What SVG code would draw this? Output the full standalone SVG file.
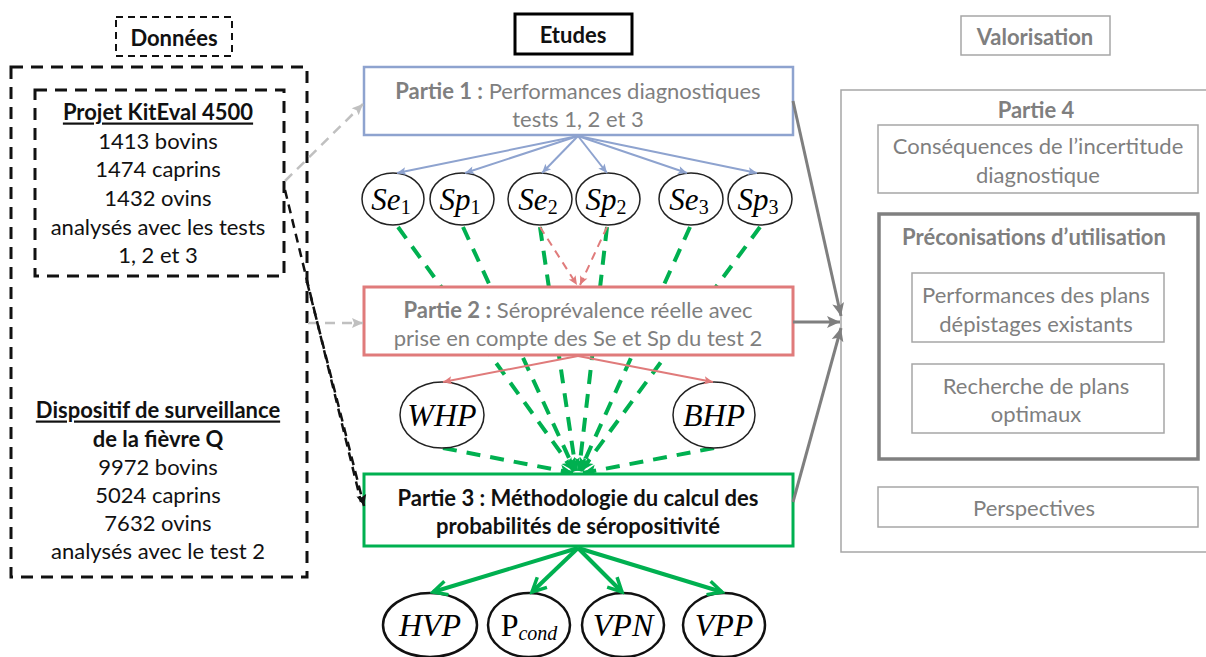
<svg xmlns="http://www.w3.org/2000/svg" width="1206" height="657" viewBox="0 0 1206 657">
<style>
.t{font-family:Lato,"Liberation Sans",sans-serif;font-size:22px;text-anchor:middle;dominant-baseline:central}
.b{font-weight:bold}
.g{fill:#7f7f7f}
.k{fill:#111}
.m{font-family:"Liberation Serif","DejaVu Serif",serif;font-style:italic;text-anchor:middle;dominant-baseline:central;fill:#000}
.up{font-style:normal}
.ell{fill:#fff;stroke:#222;stroke-width:1.5}
.ell2{fill:#fff;stroke:#111;stroke-width:2.5}
.dash{fill:none;stroke:#111;stroke-width:3;stroke-dasharray:12 8}
.gbox{fill:#fff;stroke:#a6a6a6;stroke-width:1.5}
</style>
<defs>
<marker id="ab" markerUnits="userSpaceOnUse" markerWidth="12" markerHeight="12" refX="10" refY="6" orient="auto"><path d="M1,2 L10,6 L1,10 L3,6 Z" fill="#8ea3cf"/></marker>
<marker id="ar" markerUnits="userSpaceOnUse" markerWidth="12" markerHeight="12" refX="10" refY="6" orient="auto"><path d="M1,2 L10,6 L1,10 L3,6 Z" fill="#e07b7b"/></marker>
<marker id="ag" markerUnits="userSpaceOnUse" markerWidth="20" markerHeight="20" refX="17" refY="10" orient="auto"><path d="M3,3 L17,10 L3,17" fill="none" stroke="#00b050" stroke-width="3.5"/></marker>
<marker id="agd" markerUnits="userSpaceOnUse" markerWidth="16" markerHeight="16" refX="14" refY="8" orient="auto"><path d="M1,2 L14,8 L1,14 L4,8 Z" fill="#00b050"/></marker>
<marker id="agr" markerUnits="userSpaceOnUse" markerWidth="16" markerHeight="16" refX="14" refY="8" orient="auto"><path d="M1,2 L14,8 L1,14 L4,8 Z" fill="#7f7f7f"/></marker>
<marker id="alg" markerUnits="userSpaceOnUse" markerWidth="14" markerHeight="14" refX="12" refY="7" orient="auto"><path d="M1,2 L12,7 L1,12 L3,7 Z" fill="#c0c0c0"/></marker>
<marker id="ak" markerUnits="userSpaceOnUse" markerWidth="14" markerHeight="14" refX="12" refY="7" orient="auto"><path d="M1,2 L12,7 L1,12 L3,7 Z" fill="#111"/></marker>
</defs>

<g id="connectors-back">
<g fill="none" stroke="#00b050" stroke-width="4" stroke-dasharray="14 10" marker-end="url(#agd)">
<line x1="398" y1="227" x2="574" y2="471"/>
<line x1="463" y1="227" x2="575" y2="471"/>
<line x1="540" y1="227" x2="576" y2="471"/>
<line x1="607" y1="227" x2="579" y2="471"/>
<line x1="690" y1="227" x2="580" y2="471"/>
<line x1="760" y1="227" x2="581" y2="471"/>
<line x1="443" y1="448" x2="573" y2="473"/>
<line x1="714" y1="448" x2="583" y2="473"/>
</g>
</g>

<g id="donnees-title">
<rect x="116" y="17" width="116" height="39" fill="#fff" stroke="#111" stroke-width="2" stroke-dasharray="7 5"/>
<text class="t b k" x="174" y="37">Données</text>
</g>
<g id="donnees">
<rect x="11" y="67" width="296" height="510" class="dash" fill="none"/>
</g>
<g id="kiteval">
<rect x="35" y="90" width="249" height="186" class="dash"/>
<text class="t b k" x="158" y="111" text-decoration="underline">Projet KitEval 4500</text>
<text class="t k" x="158" y="140">1413 bovins</text>
<text class="t k" x="158" y="168">1474 caprins</text>
<text class="t k" x="158" y="197">1432 ovins</text>
<text class="t k" x="158" y="226">analysés avec les tests</text>
<text class="t k" x="158" y="254">1, 2 et 3</text>
</g>
<g id="dispositif">
<text class="t b k" x="158" y="409" text-decoration="underline">Dispositif de surveillance</text>
<text class="t b k" x="158" y="438">de la fièvre Q</text>
<text class="t k" x="158" y="466">9972 bovins</text>
<text class="t k" x="158" y="494">5024 caprins</text>
<text class="t k" x="158" y="522">7632 ovins</text>
<text class="t k" x="158" y="550">analysés avec le test 2</text>
</g>

<g id="etudes-title">
<rect x="515" y="14" width="117" height="40" fill="#fff" stroke="#000" stroke-width="3"/>
<text class="t b k" x="573" y="34">Etudes</text>
</g>

<g id="partie1">
<rect x="364" y="67" width="429" height="68" fill="#fff" stroke="#8ea3cf" stroke-width="2.5"/>
<text class="t g" x="578" y="90"><tspan class="b">Partie 1 :</tspan> Performances diagnostiques</text>
<text class="t g" x="578" y="118">tests 1, 2 et 3</text>
</g>

<g id="partie2">
<rect x="364" y="287" width="429" height="68" fill="#fff" stroke="#e07b7b" stroke-width="3"/>
<text class="t g" x="578" y="309"><tspan class="b">Partie 2 :</tspan> Séroprévalence réelle avec</text>
<text class="t g" x="578" y="337">prise en compte des Se et Sp du test 2</text>
</g>

<g id="partie3">
<rect x="364" y="474" width="429" height="72" fill="#fff" stroke="#00b050" stroke-width="3"/>
<text class="t b k" x="578" y="497">Partie 3 : Méthodologie du calcul des</text>
<text class="t b k" x="578" y="525">probabilités de séropositivité</text>
</g>

<g id="se1"><ellipse class="ell" cx="393" cy="199" rx="31" ry="26"/><text class="m" x="391" y="199" font-size="31">Se<tspan class="up" font-size="20" dy="8">1</tspan></text></g>
<g id="sp1"><ellipse class="ell" cx="462" cy="199" rx="32" ry="26"/><text class="m" x="460" y="199" font-size="31">Sp<tspan class="up" font-size="20" dy="8">1</tspan></text></g>
<g id="se2"><ellipse class="ell" cx="540" cy="199" rx="32" ry="26"/><text class="m" x="538" y="199" font-size="31">Se<tspan class="up" font-size="20" dy="8">2</tspan></text></g>
<g id="sp2"><ellipse class="ell" cx="608" cy="199" rx="32" ry="26"/><text class="m" x="606" y="199" font-size="31">Sp<tspan class="up" font-size="20" dy="8">2</tspan></text></g>
<g id="se3"><ellipse class="ell" cx="691" cy="199" rx="32" ry="26"/><text class="m" x="689" y="199" font-size="31">Se<tspan class="up" font-size="20" dy="8">3</tspan></text></g>
<g id="sp3"><ellipse class="ell" cx="760" cy="199" rx="32" ry="26"/><text class="m" x="758" y="199" font-size="31">Sp<tspan class="up" font-size="20" dy="8">3</tspan></text></g>

<g id="whp"><ellipse class="ell" cx="442" cy="415" rx="42" ry="33"/><text class="m" x="442" y="415" font-size="32">WHP</text></g>
<g id="bhp"><ellipse class="ell" cx="714" cy="415" rx="41" ry="33"/><text class="m" x="714" y="415" font-size="32">BHP</text></g>

<g id="hvp"><ellipse class="ell2" cx="430" cy="625" rx="47" ry="32"/><text class="m" x="430" y="625" font-size="32">HVP</text></g>
<g id="pcond"><ellipse class="ell2" cx="529" cy="625" rx="41" ry="32"/><text class="m" x="529" y="625" font-size="32"><tspan class="up">P</tspan><tspan font-size="20" dy="8">cond</tspan></text></g>
<g id="vpn"><ellipse class="ell2" cx="623" cy="625" rx="41" ry="32"/><text class="m" x="623" y="625" font-size="32">VPN</text></g>
<g id="vpp"><ellipse class="ell2" cx="724" cy="625" rx="41" ry="32"/><text class="m" x="724" y="625" font-size="32">VPP</text></g>

<g id="valorisation-title">
<rect x="961" y="16" width="149" height="39" fill="#fff" stroke="#a6a6a6" stroke-width="1.5"/>
<text class="t b g" x="1035" y="36">Valorisation</text>
</g>
<g id="partie4">
<rect x="841" y="90" width="370" height="462" class="gbox"/>
<text class="t b g" x="1036" y="109">Partie 4</text>
</g>
<g id="consequences">
<rect x="878" y="125" width="320" height="68" class="gbox"/>
<text class="t g" x="1038" y="145">Conséquences de l’incertitude</text>
<text class="t g" x="1038" y="174">diagnostique</text>
</g>
<g id="preconisations">
<rect x="879" y="214" width="319" height="245" fill="#fff" stroke="#808080" stroke-width="3.5"/>
<text class="t b g" x="1034" y="236">Préconisations d’utilisation</text>
</g>
<g id="performances-plans">
<rect x="912" y="273" width="252" height="69" class="gbox"/>
<text class="t g" x="1036" y="294">Performances des plans</text>
<text class="t g" x="1036" y="323">dépistages existants</text>
</g>
<g id="recherche">
<rect x="912" y="364" width="252" height="69" class="gbox"/>
<text class="t g" x="1036" y="385">Recherche de plans</text>
<text class="t g" x="1036" y="413">optimaux</text>
</g>
<g id="perspectives">
<rect x="878" y="487" width="320" height="40" class="gbox"/>
<text class="t g" x="1034" y="507">Perspectives</text>
</g>

<g id="connectors">
<g stroke="#8ea3cf" stroke-width="2" fill="none" marker-end="url(#ab)">
<line x1="578" y1="136" x2="397" y2="173"/>
<line x1="578" y1="136" x2="465" y2="173"/>
<line x1="578" y1="136" x2="542" y2="173"/>
<line x1="578" y1="136" x2="607" y2="173"/>
<line x1="578" y1="136" x2="687" y2="173"/>
<line x1="578" y1="136" x2="757" y2="173"/>
</g>
<g stroke="#e07b7b" stroke-width="2" fill="none" stroke-dasharray="8 6" marker-end="url(#ar)">
<line x1="540" y1="227" x2="577" y2="285"/>
<line x1="607" y1="227" x2="580" y2="285"/>
</g>
<g stroke="#e07b7b" stroke-width="2" fill="none" marker-end="url(#ar)">
<line x1="578" y1="356" x2="443" y2="382"/>
<line x1="578" y1="356" x2="713" y2="382"/>
</g>
<g stroke="#00b050" stroke-width="4" fill="none" marker-end="url(#ag)">
<line x1="578" y1="548" x2="433" y2="592"/>
<line x1="578" y1="548" x2="532" y2="592"/>
<line x1="578" y1="548" x2="622" y2="592"/>
<line x1="578" y1="548" x2="722" y2="592"/>
</g>
<g stroke="#7f7f7f" stroke-width="3" fill="none" marker-end="url(#agr)">
<line x1="793" y1="101" x2="841" y2="316"/>
<line x1="793" y1="322" x2="840" y2="322"/>
<line x1="793" y1="502" x2="841" y2="328"/>
</g>
<g stroke="#c0c0c0" stroke-width="2.5" fill="none" stroke-dasharray="10 7" marker-end="url(#alg)">
<line x1="285" y1="181" x2="363" y2="104"/>
<line x1="308" y1="323" x2="363" y2="323"/>
</g>
<g stroke="#111" stroke-width="2.5" fill="none" stroke-dasharray="9 6">
<line x1="285" y1="190" x2="361" y2="502"/>
<line x1="307" y1="282" x2="364" y2="506" marker-end="url(#ak)"/>
</g>
</g>
</svg>
